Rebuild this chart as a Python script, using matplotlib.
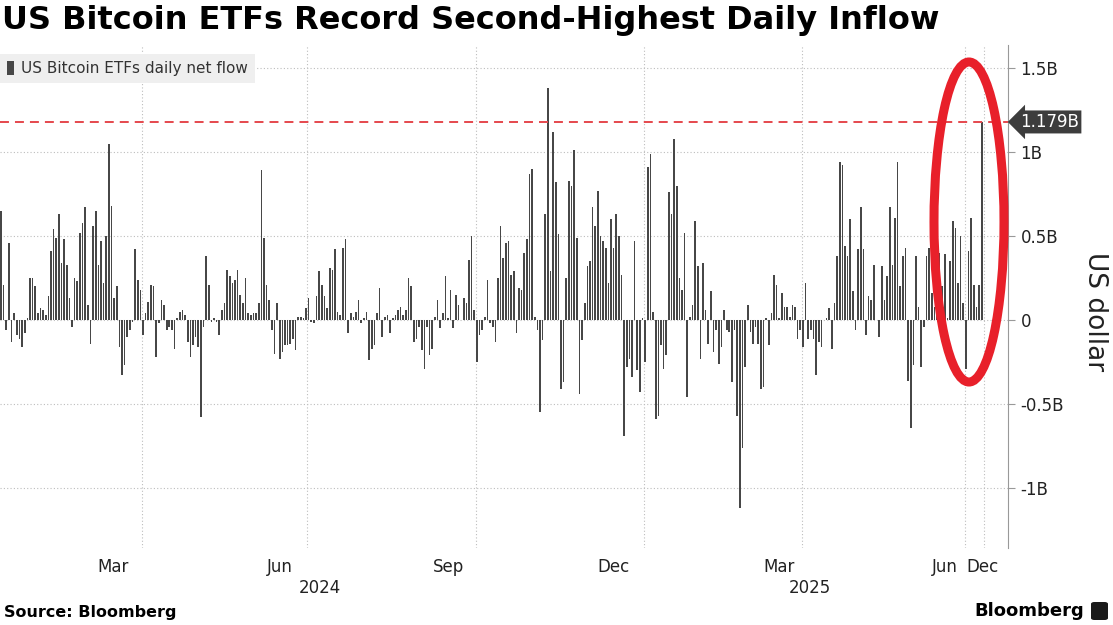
import numpy as np
import matplotlib
matplotlib.use("Agg")
import matplotlib.pyplot as plt
from matplotlib.patches import Ellipse, Patch, FancyBboxPatch
import matplotlib.transforms as mtransforms

# daily net flow, billions of USD (one value per trading day)
flows_2024 = [
    0.65, 0.21, -0.06, 0.46, -0.13, 0.04, -0.09, -0.11, -0.16, -0.08, 0.01, 0.25, 0.25, 0.20, 0.04, 0.07,
    0.06, 0.03, 0.14, 0.41, 0.54, 0.49, 0.63, 0.34, 0.48, 0.33, 0.13, -0.04, 0.25, 0.23, 0.52, 0.58, 0.67,
    0.09, -0.14, 0.56, 0.65, 0.33, 0.47, 0.22, 0.50, 1.05, 0.68, 0.13, 0.20, -0.16, -0.33, -0.27, -0.10,
    -0.06, -0.01, 0.42, 0.24, 0.18, -0.09, 0.04, 0.11, 0.21, 0.20, -0.22, -0.02, 0.12, 0.09, -0.06,
    -0.04, -0.06, -0.17, 0.01, 0.05, 0.06, 0.03, -0.13, -0.22, -0.15, -0.10, -0.16, -0.58, -0.04, 0.38,
    0.21, -0.01, 0.01, -0.01, -0.09, 0.06, 0.10, 0.30, 0.26, 0.22, 0.24, 0.30, 0.15, 0.10, 0.25, 0.04, 0.03,
    0.04, 0.04, 0.10, 0.89, 0.49, 0.21, 0.12, -0.06, -0.20, 0.10, -0.23, -0.19, -0.15, -0.15, -0.14, -0.11,
    -0.18, 0.02, 0.02, 0.01, 0.07, 0.13, -0.01, -0.02, 0.14, 0.29, 0.21, 0.14, 0.07, 0.31, 0.30, 0.42,
    0.05, 0.03, 0.43, 0.48, -0.08, 0.04, 0.02, 0.05, 0.12, -0.02, 0.01, 0.05, -0.24, -0.17, -0.15, 0.04,
    0.19, -0.10, 0.02, 0.03, -0.08, 0.01, 0.03, 0.06, 0.08, 0.03, 0.06, 0.25, 0.20, -0.13, -0.11,
    -0.04, -0.18, -0.29, -0.04, -0.21, -0.17, 0.02, 0.12, -0.05, 0.04, 0.26, 0.01, 0.18, -0.05, 0.15, 0.09,
    0.00, 0.13, 0.10, 0.36, 0.50, 0.06, -0.25, -0.09, -0.06, 0.02, 0.24, -0.02, -0.04, -0.13, 0.25, 0.56,
    0.37, 0.46, 0.47, 0.27, 0.29, -0.08, 0.19, 0.18, 0.40, 0.48, 0.87, 0.90, 0.02, -0.06, -0.55, -0.12,
    0.63, 1.38, 0.29, 1.12, 0.82, 0.51, -0.41, -0.37, 0.25, 0.83, 0.80, 1.01, 0.49, -0.44, -0.12, 0.10,
    0.32, 0.35, 0.67, 0.56, 0.77, 0.50, 0.47, 0.43, 0.22, 0.60, 0.43, 0.63, 0.50, 0.27, -0.69, -0.28,
    -0.23, -0.34, 0.47, -0.30, -0.43, 0.01,
]
flows_2025 = [
    -0.25, 0.91, 0.99, 0.05, -0.59, -0.57, -0.15, -0.29, -0.21,
    0.76, 0.63, 1.08, 0.80, 0.25, 0.18, 0.52, -0.46, 0.02, 0.09, 0.59, 0.32, -0.23, 0.34, 0.06, -0.14,
    0.17, -0.19, -0.06, -0.26, -0.16, 0.06, -0.06, -0.07, -0.37, -0.06, -0.57, -1.12, -0.76, -0.28, 0.09, -0.07,
    -0.14, -0.04, -0.14, -0.41, -0.40, 0.01, -0.15, 0.04, 0.27, 0.21, 0.01, 0.16, 0.08, 0.08, 0.02, 0.09,
    0.08, -0.11, -0.06, -0.16, 0.22, -0.11, -0.06, -0.11, -0.33, -0.13, -0.16, 0.00, 0.01, 0.07,
    -0.17, 0.10, 0.38, 0.94, 0.92, 0.44, 0.38, 0.60, 0.17, -0.06, 0.42, 0.67, 0.42, -0.09, 0.14, 0.12,
    0.33, 0.00, -0.10, 0.32, 0.12, 0.26, 0.67, 0.33, 0.61, 0.94, 0.20, 0.38, 0.43, -0.36, -0.64, -0.27,
    0.38, 0.08, -0.28, -0.04, 0.38, 0.43, 0.16, 0.08, 0.30, 0.40, 0.20, 0.39, 0.01, 0.35, 0.59, 0.55,
    0.22, 0.50, 0.10, -0.29, 0.41, 0.61, 0.21, 0.08, 0.21, 1.179,
]
record_flow = 1.179

# axis labels (positions are trading-day indices)
quarter_starts = [53.5, 116.5, 180.5, 244.5, 304.5, 366.5, 374]
month_pos = [42.6, 106, 170, 233, 296, 359, 373.4]
month_labels = ["Mar", "Jun", "Sep", "Dec", "Mar", "Jun", "Dec"]
year_pos = [121.3, 307.6]
year_labels = ["2024", "2025"]
yticks = [-1, -0.5, 0, 0.5, 1, 1.5]
ytick_labels = ["-1B", "-0.5B", "0", "0.5B", "1B", "1.5B"]

flows = np.array(flows_2024 + flows_2025)
x = np.arange(len(flows))

W, H = 1113, 625
fig = plt.figure(figsize=(W / 100, H / 100), dpi=100)
ax = fig.add_axes([0, 77 / H, 1008 / W, 503 / H])

bar_color = "#474747"
ax.bar(x, flows, width=0.62, color=bar_color, edgecolor="none", zorder=3)

ax.set_xlim(-0.4, 383)
ax.set_ylim(-1.357, 1.637)

# grid
ax.set_yticks(yticks, ytick_labels)
ax.yaxis.grid(True, ls=(0, (1, 2)), color="#bdbdbd", lw=0.8, zorder=0)
for q in quarter_starts:
    ax.axvline(q, ls=(0, (1, 2)), color="#bdbdbd", lw=0.8, zorder=0)

ax.set_xticks(month_pos, month_labels)
ax.tick_params(axis="x", length=0, pad=7, labelsize=12, labelcolor="#222222")
trans = mtransforms.blended_transform_factory(ax.transData, ax.transAxes)
for p, lab in zip(year_pos, year_labels):
    ax.text(p, -40 / 503, lab, transform=trans, ha="center", va="center", fontsize=12, color="#222222")

ax.yaxis.tick_right()
ax.tick_params(axis="y", length=5, color="#999999", pad=4, labelsize=12, labelcolor="#222222")
for s in ["top", "left", "bottom"]:
    ax.spines[s].set_visible(False)
ax.spines["right"].set_color("#999999")
ax.spines["right"].set_linewidth(0.8)

# record line and tag
ax.axhline(record_flow, color="#e5484d", ls=(0, (4.6, 3.1)), lw=1.4, zorder=4)
ytrans = mtransforms.blended_transform_factory(ax.transAxes, ax.transData)
ax.text(1.0 + 12 / 1008, record_flow, f"{record_flow:.3f}B", transform=ytrans, ha="left", va="center",
        color="white", fontsize=12, clip_on=False,
        bbox=dict(boxstyle="larrow,pad=0.15", fc="#3d3d3d", ec="none"))

leg = ax.legend(handles=[Patch(facecolor=bar_color)], labels=["US Bitcoin ETFs daily net flow"],
                loc="upper left", bbox_to_anchor=(0, 1 - 9 / 503), borderaxespad=0,
                fontsize=11, handlelength=0.45, handleheight=1.0, handletextpad=0.5,
                borderpad=0.45, frameon=True, fancybox=False)
leg.get_frame().set_facecolor("#efefef")
leg.get_frame().set_edgecolor("none")
leg.get_frame().set_alpha(1)
for t in leg.get_texts():
    t.set_color("#333333")

fig.text(1095 / W, 1 - 312 / H, "US dollar", rotation=270, ha="center", va="center", fontsize=19, color="#222222")

fig.text(2 / W, 1 - 21 / H, "US Bitcoin ETFs Record Second-Highest Daily Inflow",
         fontsize=23, fontweight="bold", va="center", color="black")
fig.text(4 / W, 1 - 612 / H, "Source: Bloomberg", fontsize=11.5, fontweight="bold", va="center")
fig.text(1084 / W, 1 - 611 / H, "Bloomberg", fontsize=13, fontweight="bold", ha="right", va="center")
fig.add_artist(FancyBboxPatch((1091 / W, 1 - 620 / H), 17 / W, 18 / H, boxstyle="round,pad=0,rounding_size=0.003",
                              transform=fig.transFigure, fc="#1a1a1a", ec="none"))

# highlight ellipse
fig.add_artist(Ellipse((969 / W, 1 - 222 / H), 70 / W, 320 / H, transform=fig.transFigure,
                       fill=False, ec="#e8202a", lw=6.5, zorder=10))

fig.savefig("out.png", dpi=100)
